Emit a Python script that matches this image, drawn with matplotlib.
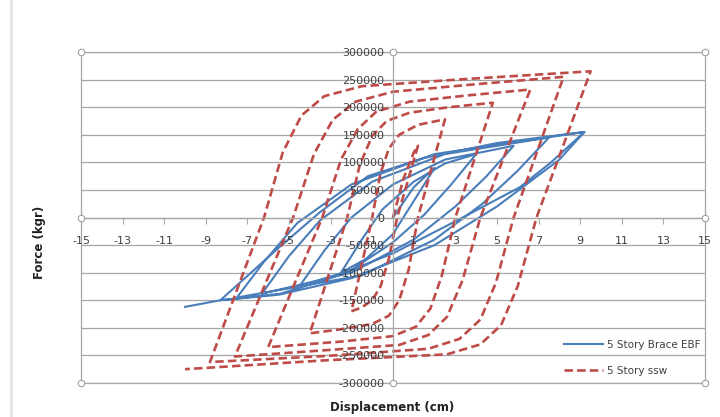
import matplotlib
matplotlib.use("Agg")
import matplotlib.pyplot as plt
from matplotlib.patches import Rectangle
from matplotlib.ticker import StrMethodFormatter

plt.rcParams['font.family'] = ['DejaVu Sans']
plt.rcParams['axes.unicode_minus'] = False

# ---- data (displacement cm, force kgr) ----
ebf_disp = [0.0, 1.0, 2.0,
            1.0, 0.0, -1.3, -2.5,
            -1.5, -0.5, 1.0, 2.5, 4.0,
            2.8, 1.5, 0.0, -2.0, -4.5,
            -3.3, -2.0, 0.0, 2.5, 5.8,
            4.5, 3.0, 1.0, -2.0, -6.3,
            -5.0, -3.5, -1.0, 2.5, 7.5,
            6.0, 4.3, 2.0, -1.5, -7.5,
            -6.2, -4.6, -2.0, 2.0, 9.2,
            8.0, 5.0, 2.0, -2.0, -5.5, -8.3,
            -5.5, -3.5, -1.2, 1.5, 5.0, 9.2,
            7.6, 6.1, 3.1, 0.0, -3.0, -5.4, -8.3,
            -10.0]
ebf_force = [0, 55000, 90000,
             30000, -30000, -75000, -100000,
             -40000, 15000, 65000, 98000, 115000,
             60000, 5000, -45000, -95000, -125000,
             -60000, 0, 60000, 105000, 130000,
             75000, 20000, -40000, -100000, -138000,
             -70000, -5000, 65000, 115000, 145000,
             85000, 25000, -40000, -105000, -145000,
             -80000, -10000, 60000, 115000, 155000,
             105000, 20000, -50000, -110000, -140000, -150000,
             -55000, 10000, 75000, 108000, 135000, 155000,
             100000, 55000, -5000, -65000, -110000, -138000, -150000,
             -162000]

ssw_disp = [0.0, 0.5, 1.0, 1.2,
            0.7, 0.2, -0.2, -0.6, -1.0, -1.5, -2.0,
            -1.5, -1.0, -0.6, -0.2, 0.3, 1.2, 2.5,
            1.85, 1.2, 0.75, 0.3, -0.2, -1.0, -2.4, -4.0,
            -3.1, -2.2, -1.6, -1.0, -0.3, 0.8, 2.7, 4.8,
            3.9, 3.0, 2.35, 1.8, 1.1, 0.0, -2.5, -6.0,
            -4.7, -3.4, -2.5, -1.7, -0.8, 0.8, 3.5, 6.6,
            5.4, 4.2, 3.35, 2.6, 1.7, 0.3, -3.4, -7.6,
            -6.2, -4.8, -3.8, -2.9, -1.8, 0.0, 3.8, 8.2,
            7.0, 5.8, 4.95, 4.2, 3.2, 1.7, -3.2, -8.8,
            -7.5, -6.2, -5.3, -4.4, -3.3, -1.5, 3.5, 9.5,
            8.2, 6.9, 6.0, 5.2, 4.2, 2.6, -3.3, -10.0]
ssw_force = [0, 70000, 118000, 130000,
             65000, 0, -75000, -125000, -150000, -163000, -170000,
             -85000, 0, 80000, 125000, 150000, 168000, 178000,
             89000, 0, -95000, -150000, -178000, -193000, -202000, -210000,
             -105000, 0, 95000, 148000, 175000, 190000, 200000, 208000,
             104000, 0, -105000, -165000, -198000, -215000, -225000, -235000,
             -117000, 0, 105000, 160000, 192000, 210000, 221000, 232000,
             116000, 0, -113000, -180000, -213000, -231000, -241000, -252000,
             -126000, 0, 115000, 177000, 210000, 228000, 241000, 255000,
             127000, 0, -118000, -185000, -220000, -238000, -251000, -262000,
             -131000, 0, 118000, 185000, 220000, 238000, 251000, 265000,
             132000, 0, -124000, -195000, -230000, -248000, -259000, -275000]

series_labels = ['5 Story Brace EBF', '5 Story ssw']
x_ticks = list(range(-15, 16, 2))
y_ticks = list(range(-300000, 300001, 50000))

grid_col = '#a6a6a6'
txt_col = '#404040'

fig = plt.figure(figsize=(7.2, 4.17), dpi=100)
ax = fig.add_axes([81/720, 34/417, 624/720, 331/417])

# horizontal gridlines behind the curves
for v in y_ticks:
    ax.axhline(v, color=grid_col, lw=0.9, zorder=0)

ax.plot(ebf_disp, ebf_force, color='#4a7ebb', lw=1.5, label=series_labels[0], zorder=2)
ax.plot(ssw_disp, ssw_force, color='#be4b48', lw=1.9, dashes=(3.2, 1.6),
        label=series_labels[1], zorder=2)

ax.set_xlim(-15, 15)
ax.set_ylim(-300000, 300000)
ax.set_xticks(x_ticks)
ax.set_yticks(y_ticks)
ax.yaxis.set_major_formatter(StrMethodFormatter('{x:.0f}'))
ax.set_axisbelow(False)

# axes cross in the middle, like excel
ax.spines['left'].set_position(('data', 0))
ax.spines['bottom'].set_position(('data', 0))
for s in ['top', 'right']:
    ax.spines[s].set_visible(False)
for s in ['left', 'bottom']:
    ax.spines[s].set_color(grid_col)
    ax.spines[s].set_linewidth(0.9)
ax.tick_params(axis='x', direction='out', length=4, width=0.8, color=grid_col,
               labelsize=8, labelcolor=txt_col, pad=9)
ax.tick_params(axis='y', direction='out', length=4, width=0.8, color=grid_col,
               labelsize=8, labelcolor=txt_col, pad=2)

# plot area frame
ax.add_patch(Rectangle((0, 0), 1, 1, transform=ax.transAxes, fill=False,
                       edgecolor=grid_col, lw=0.9, zorder=0, clip_on=False))
# sizing handles
hx = [0, 0.5, 1, 0, 1, 0, 0.5, 1]
hy = [1, 1, 1, 0.5, 0.5, 0, 0, 0]
ax.scatter(hx, hy, s=22, marker='o', facecolor='white', edgecolor='#a0a0a0',
           linewidth=0.8, transform=ax.transAxes, clip_on=False, zorder=5)

fig.text(39/720, 1 - 242/417, 'Force (kgr)', rotation=90, ha='center', va='center',
         fontsize=8.5, fontweight='bold', color='#222222')
fig.text(392/720, 1 - 407/417, 'Displacement (cm)', ha='center', va='center',
         fontsize=8.5, fontweight='bold', color='#222222')

leg = ax.legend(loc='lower right', bbox_to_anchor=(1.005, 0.0), frameon=False,
                fontsize=7.5, handlelength=3.8, labelspacing=1.5, handletextpad=0.4,
                borderaxespad=0.3)
for t in leg.get_texts():
    t.set_color(txt_col)

# faint window edge on the left
fig.add_artist(plt.Line2D([11/720, 11/720], [0, 1], color='#e4e4e4', lw=2))

fig.savefig('out.png', dpi=100)
